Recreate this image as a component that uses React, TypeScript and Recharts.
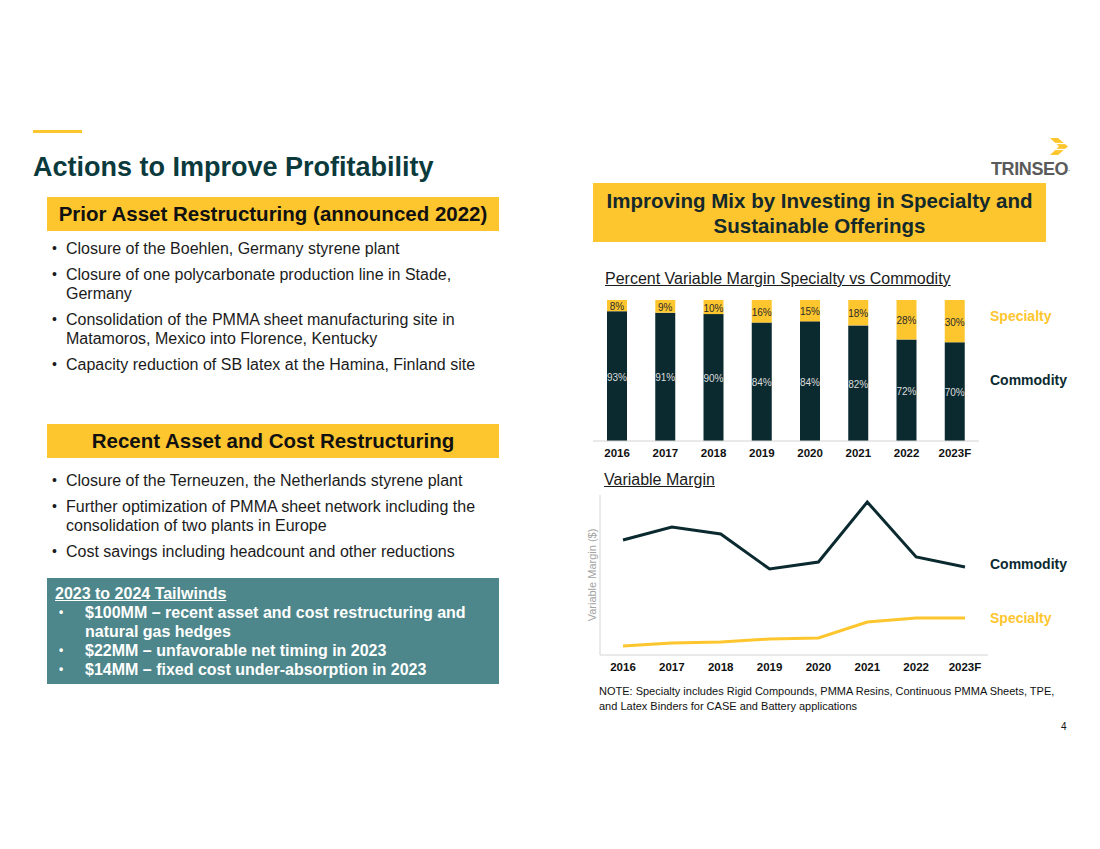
import React from "react";
import {
    BarChart,
    Bar,
    LineChart,
    Line,
    XAxis,
    YAxis,
    LabelList
} from "recharts";

// ==============================
// DATA
// ==============================
const years = ["2016", "2017", "2018", "2019", "2020", "2021", "2022", "2023F"];
const commodityPct = [93, 91, 90, 84, 84, 82, 72, 70];
const specialtyPct = [8, 9, 10, 16, 15, 18, 28, 30];
// relative variable margin (no scale shown on the slide)
const commodityMargin = [1150, 1280, 1210, 860, 930, 1530, 980, 880];
const specialtyMargin = [90, 120, 130, 160, 170, 330, 370, 370];

const priorBullets = [
    "Closure of the Boehlen, Germany styrene plant",
    "Closure of one polycarbonate production line in Stade, Germany",
    "Consolidation of the PMMA sheet manufacturing site in Matamoros, Mexico into Florence, Kentucky",
    "Capacity reduction of SB latex at the Hamina, Finland site"
];
const recentBullets = [
    "Closure of the Terneuzen, the Netherlands styrene plant",
    "Further optimization of PMMA sheet network including the consolidation of two plants in Europe",
    "Cost savings including headcount and other reductions"
];
const tailwinds = [
    "$100MM \u2013 recent asset and cost restructuring and natural gas hedges",
    "$22MM \u2013 unfavorable net timing in 2023",
    "$14MM \u2013 fixed cost under-absorption in 2023"
];

const YELLOW = "#FEC62E";
const DARK = "#0B2A30";
const TEAL = "#4E878B";
const FONT = "'Liberation Sans', Arial, sans-serif";

const mixData = years.map((year, i) => ({
    year,
    commodity: commodityPct[i],
    specialty: specialtyPct[i]
}));

const marginData = years.map((year, i) => ({
    year,
    commodity: commodityMargin[i],
    specialty: specialtyMargin[i]
}));

const pctLabel = (arr: number[], color: string) => (props: any) => {
    const { x, y, width, height, index, value } = props;
    const v = index != null ? arr[index] : value;
    return (
        <text
            x={Number(x) + Number(width) / 2}
            y={Number(y) + Number(height) / 2 + 1}
            fill={color}
            fontSize={10}
            fontFamily={FONT}
            textAnchor="middle"
            dominantBaseline="central"
        >
            {v}%
        </text>
    );
};

const tickStyle = {
    fontSize: 11.5,
    fontWeight: 700,
    fill: "#111",
    fontFamily: FONT
};

function Bullets({ items, top }: { items: string[]; top: number }) {
    return (
        <div style={{ position: "absolute", left: 52, top, width: 440 }}>
            {items.map((t) => (
                <div
                    key={t}
                    style={{
                        display: "flex",
                        fontSize: 16,
                        lineHeight: "19px",
                        color: "#1b1b1b",
                        marginBottom: 7
                    }}
                >
                    <span style={{ width: 14, flexShrink: 0, fontSize: 14 }}>{"\u2022"}</span>
                    <span>{t}</span>
                </div>
            ))}
        </div>
    );
}

export default function App() {
    return (
        <div
            style={{
                position: "absolute",
                left: 0,
                top: 0,
                width: 1100,
                height: 849,
                background: "#fff",
                fontFamily: FONT,
                overflow: "hidden"
            }}
        >
            {/* TOP ACCENT */}
            <div style={{ position: "absolute", left: 33, top: 130, width: 49, height: 3, background: YELLOW }} />

            {/* TITLE */}
            <div
                style={{
                    position: "absolute",
                    left: 33,
                    top: 151,
                    fontSize: 27,
                    fontWeight: 700,
                    color: "#0B3A3D",
                    lineHeight: "32px",
                    whiteSpace: "nowrap"
                }}
            >
                Actions to Improve Profitability
            </div>

            {/* LOGO */}
            <svg style={{ position: "absolute", left: 1047, top: 137 }} width={24} height={20}>
                <polygon points="3,1 11,1 21,9.5 11,18 3,18 12,9.5" fill={YELLOW} />
                <line x1="1" y1="6.5" x2="23" y2="6.5" stroke="#fff" strokeWidth={1.2} />
                <line x1="1" y1="12.5" x2="23" y2="12.5" stroke="#fff" strokeWidth={1.2} />
            </svg>
            <div
                style={{
                    position: "absolute",
                    left: 991,
                    top: 159,
                    fontSize: 18,
                    fontWeight: 700,
                    color: "#5a5a5a",
                    lineHeight: "20px",
                    letterSpacing: -0.4
                }}
            >
                TRINSEO<span style={{ fontSize: 6, verticalAlign: "bottom" }}>.</span>
            </div>

            {/* LEFT: PRIOR */}
            <div
                style={{
                    position: "absolute",
                    left: 47,
                    top: 197,
                    width: 452,
                    height: 34,
                    background: YELLOW,
                    fontSize: 20.5,
                    fontWeight: 700,
                    color: "#111",
                    lineHeight: "34px",
                    textAlign: "center",
                    whiteSpace: "nowrap"
                }}
            >
                Prior Asset Restructuring (announced 2022)
            </div>
            <Bullets items={priorBullets} top={239} />

            {/* LEFT: RECENT */}
            <div
                style={{
                    position: "absolute",
                    left: 47,
                    top: 424,
                    width: 452,
                    height: 34,
                    background: YELLOW,
                    fontSize: 20.5,
                    fontWeight: 700,
                    color: "#111",
                    lineHeight: "34px",
                    textAlign: "center",
                    whiteSpace: "nowrap"
                }}
            >
                Recent Asset and Cost Restructuring
            </div>
            <Bullets items={recentBullets} top={471} />

            {/* TAILWINDS */}
            <div
                style={{
                    position: "absolute",
                    left: 47,
                    top: 578,
                    width: 452,
                    height: 106,
                    background: TEAL,
                    color: "#fff",
                    fontSize: 16,
                    fontWeight: 700,
                    lineHeight: "19px",
                    boxSizing: "border-box",
                    padding: "6px 20px 0 8px"
                }}
            >
                <div style={{ textDecoration: "underline" }}>2023 to 2024 Tailwinds</div>
                {tailwinds.map((t) => (
                    <div key={t} style={{ display: "flex" }}>
                        <span style={{ width: 26, flexShrink: 0, paddingLeft: 4, fontSize: 12 }}>{"\u2022"}</span>
                        <span>{t}</span>
                    </div>
                ))}
            </div>

            {/* RIGHT HEADER */}
            <div
                style={{
                    position: "absolute",
                    left: 593,
                    top: 183,
                    width: 453,
                    height: 59,
                    background: YELLOW,
                    fontSize: 20.5,
                    fontWeight: 700,
                    color: "#14292c",
                    lineHeight: "25px",
                    textAlign: "center",
                    boxSizing: "border-box",
                    paddingTop: 5
                }}
            >
                Improving Mix by Investing in Specialty and
                <br />
                Sustainable Offerings
            </div>

            {/* BAR CHART TITLE */}
            <div
                style={{
                    position: "absolute",
                    left: 605,
                    top: 269,
                    fontSize: 16,
                    color: "#1b1b1b",
                    textDecoration: "underline",
                    whiteSpace: "nowrap",
                    lineHeight: "19px"
                }}
            >
                Percent Variable Margin Specialty vs Commodity
            </div>

            {/* BAR CHART */}
            <div style={{ position: "absolute", left: 580, top: 290 }}>
                <BarChart
                    width={420}
                    height={190}
                    data={mixData}
                    stackOffset="expand"
                    margin={{ top: 10, right: 21, bottom: 9, left: 13 }}
                    barSize={20}
                >
                    <XAxis
                        dataKey="year"
                        height={30}
                        tickLine={false}
                        axisLine={{ stroke: "#d4d4d4" }}
                        tick={tickStyle}
                        interval={0}
                    />
                    <YAxis hide domain={[0, 1]} />
                    <Bar dataKey="commodity" stackId="mix" fill={DARK} isAnimationActive={false}>
                        <LabelList dataKey="commodity" content={pctLabel(commodityPct, "#dcdcdc")} />
                    </Bar>
                    <Bar dataKey="specialty" stackId="mix" fill={YELLOW} isAnimationActive={false}>
                        <LabelList dataKey="specialty" content={pctLabel(specialtyPct, "#2a2a2a")} />
                    </Bar>
                </BarChart>
            </div>
            <div style={{ position: "absolute", left: 990, top: 308, fontSize: 14, fontWeight: 700, color: YELLOW }}>
                Specialty
            </div>
            <div style={{ position: "absolute", left: 990, top: 372, fontSize: 14, fontWeight: 700, color: DARK }}>
                Commodity
            </div>

            {/* LINE CHART TITLE */}
            <div
                style={{
                    position: "absolute",
                    left: 604,
                    top: 470,
                    fontSize: 16,
                    color: "#1b1b1b",
                    textDecoration: "underline",
                    whiteSpace: "nowrap",
                    lineHeight: "19px"
                }}
            >
                Variable Margin
            </div>

            {/* LINE CHART */}
            <div style={{ position: "absolute", left: 560, top: 485 }}>
                <LineChart
                    width={440}
                    height={200}
                    data={marginData}
                    margin={{ top: 10, right: 12, bottom: 0, left: 0 }}
                >
                    <XAxis
                        dataKey="year"
                        height={30}
                        tickLine={false}
                        axisLine={{ stroke: "#d4d4d4" }}
                        tick={tickStyle}
                        interval={0}
                        padding={{ left: 23, right: 23 }}
                    />
                    <YAxis
                        width={40}
                        domain={[0, 1600]}
                        tick={false}
                        tickLine={false}
                        axisLine={{ stroke: "#d4d4d4" }}
                        label={{
                            value: "Variable Margin ($)",
                            angle: -90,
                            position: "center",
                            dx: 12,
                            fill: "#a3a3a3",
                            fontSize: 11,
                            fontFamily: FONT
                        }}
                    />
                    <Line
                        type="linear"
                        dataKey="commodity"
                        stroke={DARK}
                        strokeWidth={3}
                        dot={false}
                        isAnimationActive={false}
                    />
                    <Line
                        type="linear"
                        dataKey="specialty"
                        stroke={YELLOW}
                        strokeWidth={3}
                        dot={false}
                        isAnimationActive={false}
                    />
                </LineChart>
            </div>
            <div style={{ position: "absolute", left: 990, top: 556, fontSize: 14, fontWeight: 700, color: DARK }}>
                Commodity
            </div>
            <div style={{ position: "absolute", left: 990, top: 610, fontSize: 14, fontWeight: 700, color: YELLOW }}>
                Specialty
            </div>

            {/* NOTE */}
            <div
                style={{
                    position: "absolute",
                    left: 599,
                    top: 684,
                    fontSize: 11,
                    lineHeight: "15px",
                    color: "#111",
                    width: 470
                }}
            >
                NOTE: Specialty includes Rigid Compounds, PMMA Resins, Continuous PMMA Sheets, TPE,
                <br />
                and Latex Binders for CASE and Battery applications
            </div>
            <div style={{ position: "absolute", left: 1061, top: 721, fontSize: 10, color: "#111" }}>4</div>
        </div>
    );
}
